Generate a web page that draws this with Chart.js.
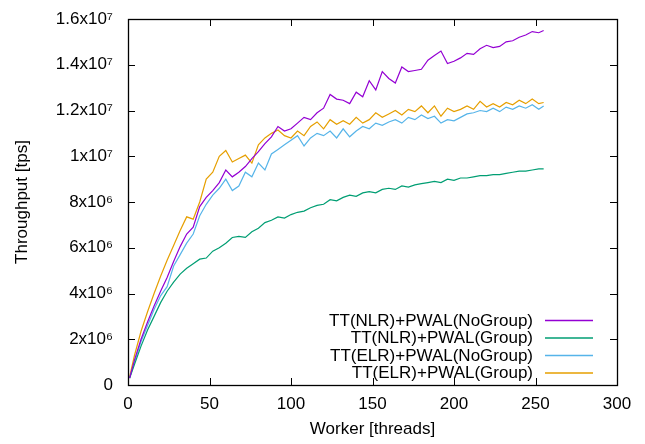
<!DOCTYPE html>
<html>
<head>
<meta charset="utf-8">
<script src="https://cdn.jsdelivr.net/npm/chart.js@4"></script>
<style>
  html, body { margin: 0; padding: 0; background: #fff; }
  #wrap { width: 645px; height: 444px; position: relative; }
</style>
</head>
<body>
<div id="wrap"><canvas id="chart"></canvas></div>
<script>
// threads (x) and throughput in millions tps (y)
const threads = [1,4,8,12,16,20,24,28,32,36,40,44,48,52,56,60,64,68,72,76,80,84,88,92,96,100,104,108,112,116,120,124,128,132,136,140,144,148,152,156,160,164,168,172,176,180,184,188,192,196,200,204,208,212,216,220,224,228,232,236,240,244,248,252,255];

const nlrNoGroup = [0.3,1.1,2.0,2.75,3.45,4.1,4.7,5.4,6.05,6.6,6.9,7.8,8.2,8.5,8.85,9.4,9.1,9.3,9.55,9.9,10.2,10.55,10.85,11.3,11.1,11.2,11.45,11.7,11.6,11.9,12.1,12.7,12.5,12.45,12.3,12.8,12.6,13.3,12.9,13.7,13.4,13.2,13.9,13.7,13.75,13.8,14.2,14.4,14.6,14.05,14.15,14.3,14.5,14.45,14.7,14.85,14.75,14.8,15.0,15.05,15.2,15.3,15.45,15.4,15.5];

const nlrGroup = [0.3,0.9,1.7,2.4,3.0,3.6,4.1,4.5,4.85,5.1,5.3,5.5,5.55,5.85,6.0,6.2,6.45,6.5,6.45,6.7,6.85,7.1,7.2,7.35,7.3,7.45,7.55,7.6,7.75,7.85,7.9,8.1,8.05,8.2,8.3,8.25,8.4,8.45,8.4,8.55,8.6,8.55,8.7,8.65,8.75,8.8,8.85,8.9,8.85,9.0,8.95,9.05,9.05,9.1,9.15,9.15,9.2,9.2,9.25,9.3,9.35,9.35,9.4,9.45,9.45];

const elrNoGroup = [0.3,1.0,1.9,2.6,3.3,3.9,4.3,5.2,5.7,6.2,6.6,7.4,7.9,8.3,8.6,9.0,8.5,8.7,9.3,9.1,9.7,9.4,10.1,10.3,10.5,10.7,10.9,10.45,10.8,11.0,10.9,11.1,10.8,11.2,10.85,11.1,11.3,11.2,11.45,11.35,11.5,11.6,11.45,11.7,11.6,11.8,11.65,11.75,11.45,11.6,11.55,11.7,11.85,11.9,12.0,11.95,12.1,11.95,12.15,12.05,12.2,12.1,12.25,12.05,12.2];

const elrGroup = [0.35,1.3,2.35,3.2,4.0,4.75,5.45,6.1,6.75,7.35,7.25,8.0,9.0,9.3,10.0,10.25,9.75,9.9,10.05,9.7,10.5,10.8,11.0,11.15,10.9,10.8,11.1,10.9,11.3,11.5,11.2,11.6,11.4,11.55,11.4,11.7,11.45,11.6,11.9,11.7,11.85,12.0,11.8,12.05,11.95,12.2,11.9,12.2,11.75,12.1,11.95,12.05,12.2,12.05,12.4,12.15,12.3,12.15,12.35,12.25,12.45,12.3,12.5,12.3,12.35];

const seriesNames = ['TT(NLR)+PWAL(NoGroup)', 'TT(NLR)+PWAL(Group)', 'TT(ELR)+PWAL(NoGroup)', 'TT(ELR)+PWAL(Group)'];
const seriesColors = ['#9400d3', '#009e73', '#56b4e9', '#e69f00'];
const seriesValues = [nlrNoGroup, nlrGroup, elrNoGroup, elrGroup];

const yTickLabels = ['0', '2x10\u2076', '4x10\u2076', '6x10\u2076', '8x10\u2076', '1x10\u2077', '1.2x10\u2077', '1.4x10\u2077', '1.6x10\u2077'];

const FONT = 'Liberation Sans, Arial, Helvetica, sans-serif';
const FS = 17;

// gnuplot style: frame + inward ticks on all four sides
const frameTicks = {
    id: 'frameTicks',
    afterDatasetsDraw(chart) {
        const { ctx, chartArea: a, scales: { x, y } } = chart;
        const len = 7;
        ctx.save();
        ctx.strokeStyle = '#000';
        ctx.lineWidth = 1;
        ctx.beginPath();
        x.ticks.forEach(t => {
            const px = Math.round(x.getPixelForValue(t.value)) + 0.5;
            ctx.moveTo(px, a.bottom); ctx.lineTo(px, a.bottom - len);
            ctx.moveTo(px, a.top); ctx.lineTo(px, a.top + len);
        });
        y.ticks.forEach(t => {
            const py = Math.round(y.getPixelForValue(t.value)) + 0.5;
            ctx.moveTo(a.left, py); ctx.lineTo(a.left + len, py);
            ctx.moveTo(a.right, py); ctx.lineTo(a.right - len, py);
        });
        ctx.stroke();
        ctx.lineWidth = 1.3;
        ctx.strokeRect(a.left + 0.5, a.top + 0.5, a.right - a.left, a.bottom - a.top);
        ctx.restore();
    }
};

// legend inside, bottom right: label right aligned, sample line to the right
const keyBox = {
    id: 'keyBox',
    afterDatasetsDraw(chart) {
        const { ctx } = chart;
        const textRight = 533, lineL = 545, lineR = 593;
        const rowY = [320, 337.5, 355, 372.5];
        ctx.save();
        ctx.font = FS + 'px ' + FONT;
        ctx.textAlign = 'right';
        ctx.textBaseline = 'middle';
        chart.data.datasets.forEach((ds, i) => {
            ctx.fillStyle = '#000';
            ctx.fillText(ds.label, textRight, rowY[i] + 1);
            ctx.strokeStyle = ds.borderColor;
            ctx.lineWidth = 1.3;
            ctx.beginPath();
            ctx.moveTo(lineL, rowY[i] + 0.5);
            ctx.lineTo(lineR, rowY[i] + 0.5);
            ctx.stroke();
        });
        ctx.restore();
    }
};

Chart.defaults.font.family = FONT;
Chart.defaults.color = '#000';

new Chart(document.getElementById('chart'), {
    type: 'line',
    data: {
        datasets: seriesNames.map((name, i) => ({
            label: name,
            data: threads.map((t, k) => ({ x: t, y: seriesValues[i][k] * 1e6 })),
            borderColor: seriesColors[i],
            backgroundColor: seriesColors[i],
            borderWidth: 1.2,
            pointRadius: 0,
            tension: 0
        }))
    },
    options: {
        responsive: true,
        maintainAspectRatio: false,
        animation: false,
        layout: { padding: { top: 19, right: 28, left: 0, bottom: 0 } },
        plugins: { legend: { display: false }, tooltip: { enabled: false } },
        scales: {
            x: {
                type: 'linear', min: 0, max: 300,
                ticks: { stepSize: 50, font: { size: FS }, padding: 9 },
                grid: { display: false, drawTicks: false },
                border: { display: false },
                title: { display: true, text: 'Worker [threads]', font: { size: FS }, padding: { top: 4, bottom: 4 } },
                afterFit(s) { s.height = 59; s.paddingLeft = 0; s.paddingRight = 0; }
            },
            y: {
                min: 0, max: 16e6,
                ticks: {
                    stepSize: 2e6, font: { size: FS }, padding: 15,
                    callback: (v, i) => yTickLabels[i]
                },
                grid: { display: false, drawTicks: false },
                border: { display: false },
                title: { display: true, text: 'Throughput [tps]', font: { size: FS }, padding: { top: 12, bottom: 6 } },
                afterFit(s) { s.width = 128; s.paddingTop = 0; s.paddingBottom = 0; }
            }
        }
    },
    plugins: [frameTicks, keyBox]
});
</script>
</body>
</html>
